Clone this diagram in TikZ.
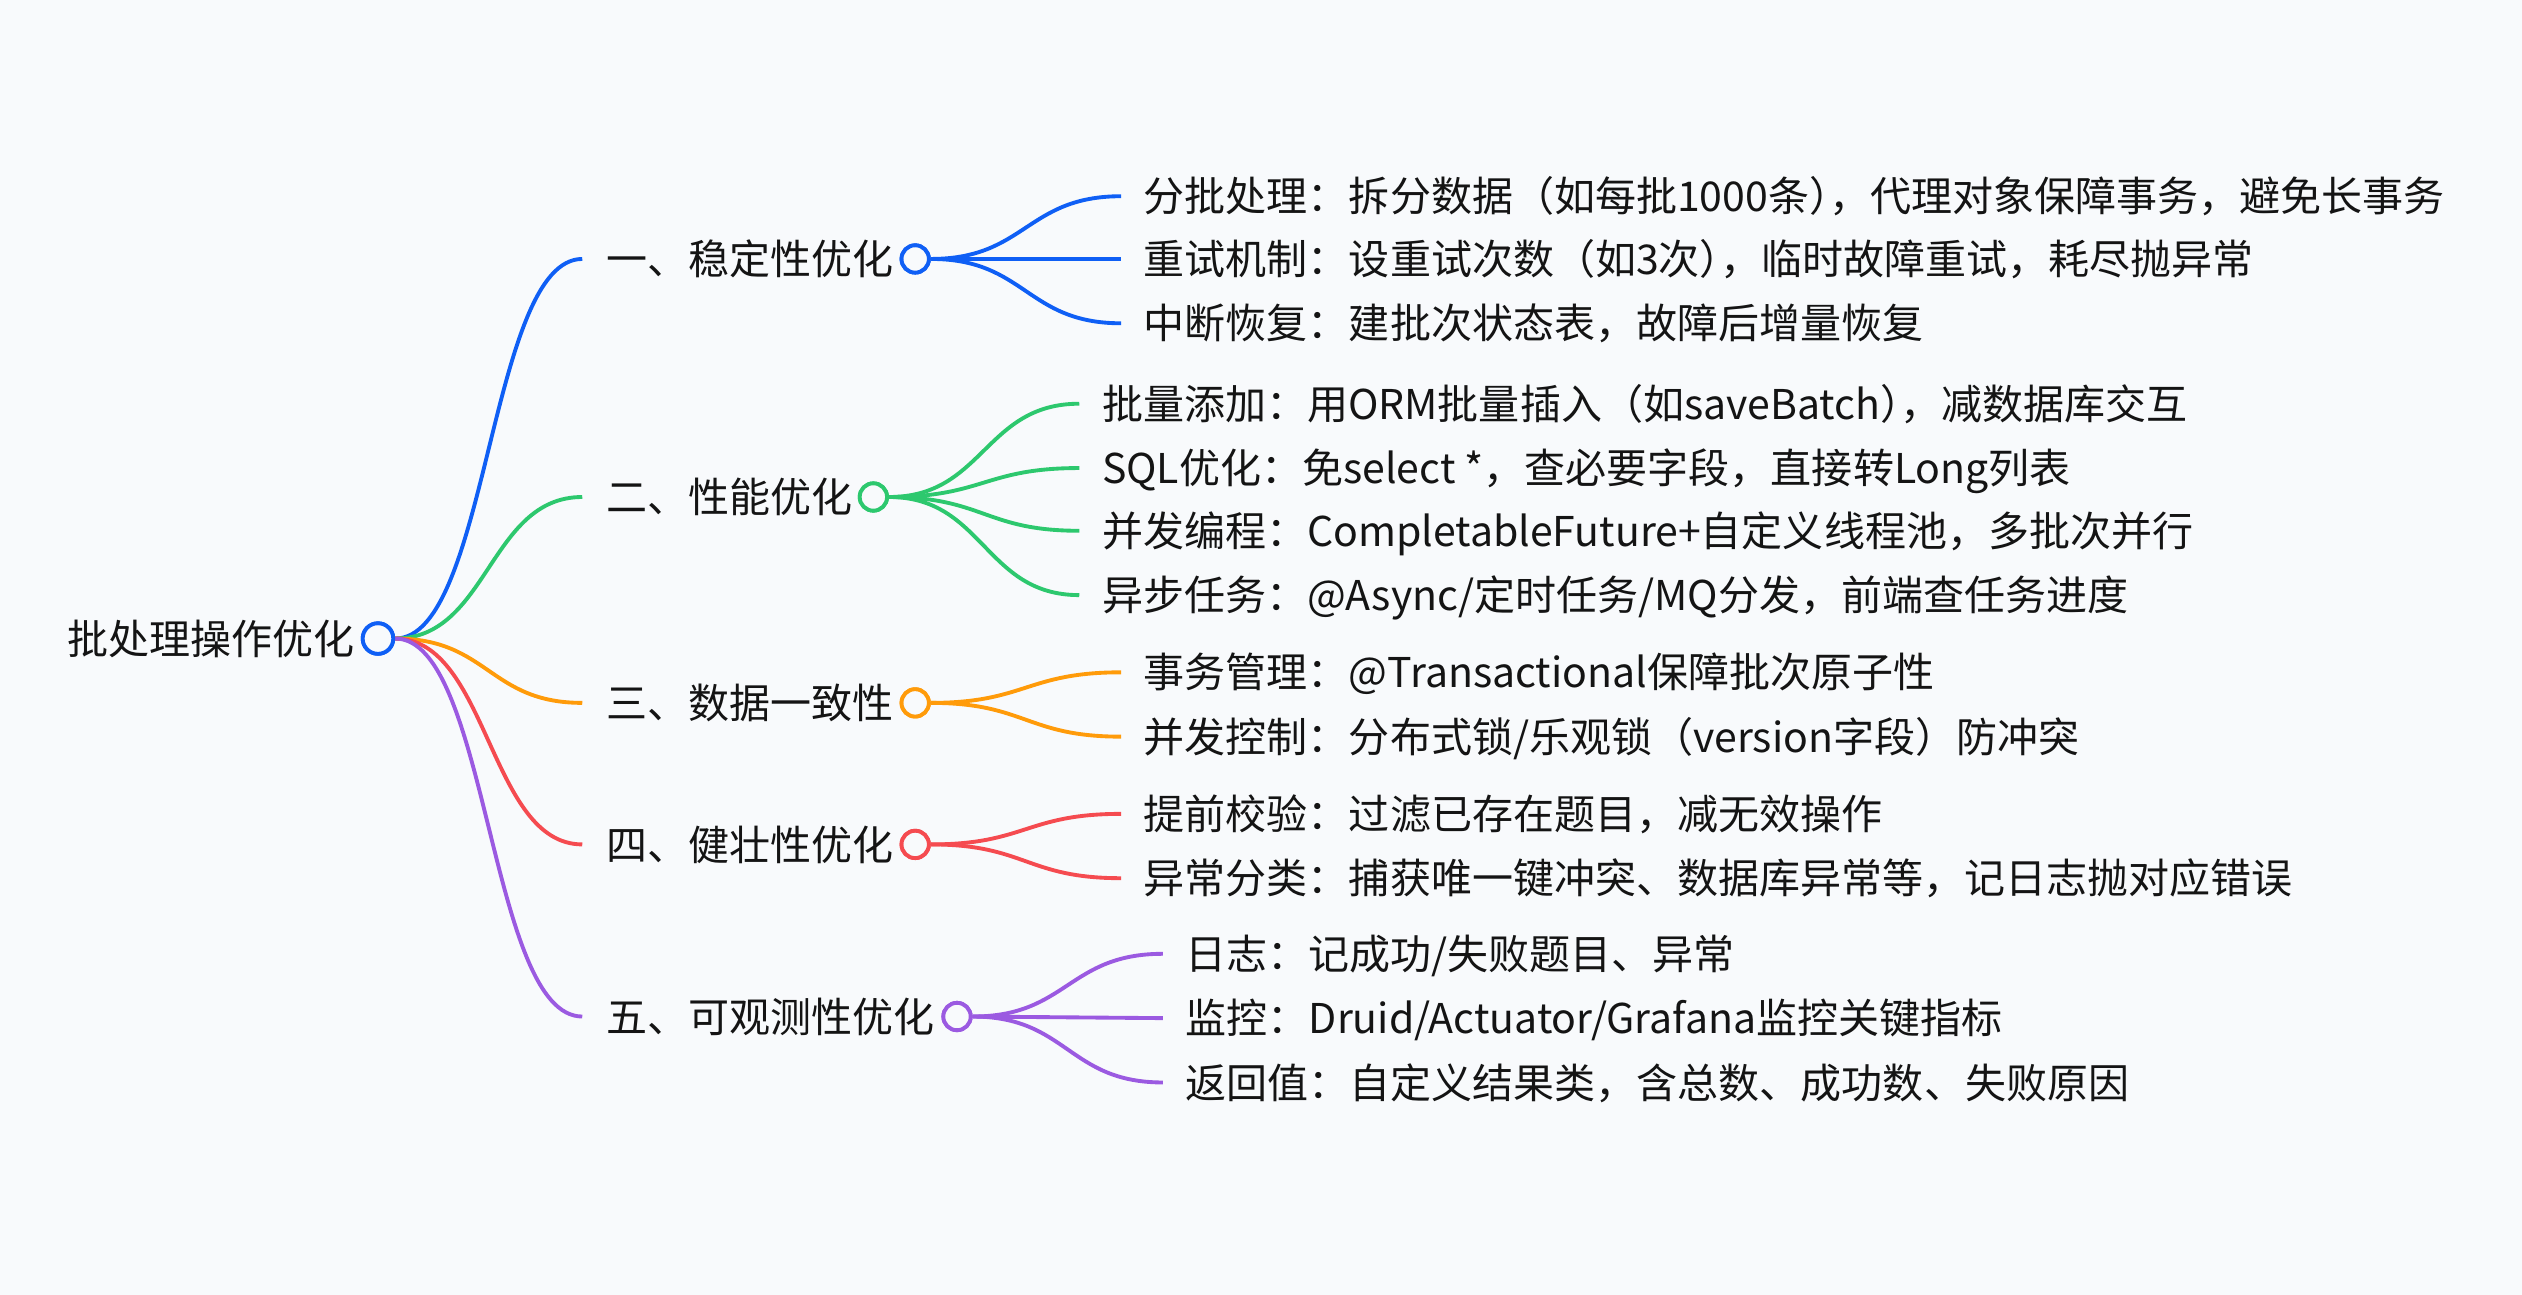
\documentclass[tikz,border=0pt]{standalone}
\usepackage{fontspec}
\setmainfont{Noto Sans CJK SC}
\definecolor{bg}{RGB}{248,250,252}
\definecolor{cblue}{RGB}{15,95,245}
\definecolor{cgreen}{RGB}{45,200,110}
\definecolor{corange}{RGB}{255,155,10}
\definecolor{cred}{RGB}{245,75,80}
\definecolor{cpurple}{RGB}{155,90,225}
\definecolor{ink}{RGB}{20,20,20}
\newcommand\closecomma{）\kern-0.5em，}
\begin{document}
\begin{tikzpicture}[x=1pt,y=-1pt,
  txt/.style={font=\fontsize{25.5pt}{30pt}\selectfont, anchor=west, inner ysep=0pt,
              text height=22.4pt, text depth=3pt, text=ink},
  roottxt/.style={txt, inner xsep=0pt},
  lvl/.style={txt, inner xsep=15pt},
  leaf/.style={txt, inner xsep=14pt},
  dot/.style={circle, draw=#1, fill=bg, line width=2.4pt, minimum size=17pt, inner sep=0pt},
  link/.style={draw=#1, line width=2.4pt},
]
\fill[bg] (0,0) rectangle (1568,805);
\useasboundingbox (0,0) rectangle (1568,805);

% root
\node[roottxt] (root) at (42,397) {批处理操作优化};
\node[dot=cblue, minimum size=19pt] (rc) at (235,397) {};

% level 1
\node[lvl] (a) at (362,161) {一、稳定性优化};
\node[lvl] (b) at (362,309) {二、性能优化};
\node[lvl] (c) at (362,437) {三、数据一致性};
\node[lvl] (d) at (362,525) {四、健壮性优化};
\node[lvl] (e) at (362,632) {五、可观测性优化};

% leaves
\node[leaf] (a1) at (697,122) {分批处理：拆分数据（如每批1000条\closecomma 代理对象保障事务，避免长事务};
\node[leaf] (a2) at (697,161) {重试机制：设重试次数（如3次\closecomma 临时故障重试，耗尽抛异常};
\node[leaf] (a3) at (697,201) {中断恢复：建批次状态表，故障后增量恢复};

\node[leaf] (b1) at (671,251) {批量添加：用ORM批量插入（如saveBatch\closecomma 减数据库交互};
\node[leaf] (b2) at (671,291) {SQL优化：免select *，查必要字段，直接转Long列表};
\node[leaf] (b3) at (671,330) {并发编程：CompletableFuture+自定义线程池，多批次并行};
\node[leaf] (b4) at (671,370) {异步任务：@Async/定时任务/MQ分发，前端查任务进度};

\node[leaf] (c1) at (697,418) {事务管理：@Transactional保障批次原子性};
\node[leaf] (c2) at (697,458) {并发控制：分布式锁/乐观锁（version字段）防冲突};

\node[leaf] (d1) at (697,506) {提前校验：过滤已存在题目，减无效操作};
\node[leaf] (d2) at (697,546) {异常分类：捕获唯一键冲突、数据库异常等，记日志抛对应错误};

\node[leaf] (e1) at (723,593) {日志：记成功/失败题目、异常};
\node[leaf] (e2) at (723,633) {监控：Druid/Actuator/Grafana监控关键指标};
\node[leaf] (e3) at (723,673) {返回值：自定义结果类，含总数、成功数、失败原因};

% level-1 circles
\node[dot=cblue]   (ac) at (569,161) {};
\node[dot=cgreen]  (bc) at (543,309) {};
\node[dot=corange] (cc) at (569,437) {};
\node[dot=cred]    (dc) at (569,525) {};
\node[dot=cpurple] (ec) at (595,632) {};

% root links
\draw[link=cblue]   (rc.east) .. controls +(58,0) and +(-58,0) .. (a.west);
\draw[link=cgreen]  (rc.east) .. controls +(58,0) and +(-58,0) .. (b.west);
\draw[link=corange] (rc.east) .. controls +(58,0) and +(-58,0) .. (c.west);
\draw[link=cred]    (rc.east) .. controls +(58,0) and +(-58,0) .. (d.west);
\draw[link=cpurple] (rc.east) .. controls +(58,0) and +(-58,0) .. (e.west);

% leaf links
\foreach \s/\t/\c in {ac/a1/cblue, ac/a2/cblue, ac/a3/cblue,
                      bc/b1/cgreen, bc/b2/cgreen, bc/b3/cgreen, bc/b4/cgreen,
                      cc/c1/corange, cc/c2/corange,
                      dc/d1/cred, dc/d2/cred,
                      ec/e1/cpurple, ec/e2/cpurple, ec/e3/cpurple}
  \draw[link=\c] (\s.east) .. controls +(59,0) and +(-59,0) .. (\t.west);

% redraw circles on top
\node[dot=cblue, minimum size=19pt] at (rc) {};
\node[dot=cblue]   at (ac) {};
\node[dot=cgreen]  at (bc) {};
\node[dot=corange] at (cc) {};
\node[dot=cred]    at (dc) {};
\node[dot=cpurple] at (ec) {};
\end{tikzpicture}
\end{document}
